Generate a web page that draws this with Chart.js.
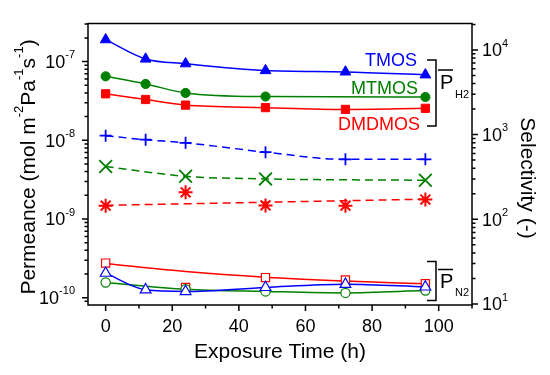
<!DOCTYPE html>
<html>
<head>
<meta charset="utf-8">
<script src="https://cdn.jsdelivr.net/npm/chart.js@4.4.0/dist/chart.umd.min.js"></script>
<style>
  html, body { margin: 0; padding: 0; background: #fff; }
  #wrap { width: 550px; height: 375px; }
</style>
</head>
<body>
<div id="wrap"><canvas id="grafico"></canvas></div>
<script>
// datos
const horas = [0, 12, 24, 48, 72, 96];

// permeancia H2 (mol m-2 Pa-1 s-1)
const tmosH2 = [1.9e-7, 1.08e-7, 9.4e-8, 7.7e-8, 7.4e-8, 6.8e-8];
const mtmosH2 = [6.5e-8, 5.2e-8, 4.0e-8, 3.6e-8, null, 3.55e-8];
const dmdmosH2 = [3.9e-8, 3.3e-8, 2.8e-8, 2.6e-8, 2.47e-8, 2.55e-8];

// permeancia N2
const tmosN2 = [2.05e-10, 1.26e-10, 1.2e-10, 1.35e-10, 1.48e-10, 1.37e-10];
const mtmosN2 = [1.56e-10, null, 1.28e-10, 1.2e-10, 1.15e-10, 1.23e-10];
const dmdmosN2 = [2.75e-10, null, 1.35e-10, 1.8e-10, 1.68e-10, 1.5e-10];
const dmdmosN2Ajuste = [2.72e-10, null, 2.15e-10, 1.82e-10, 1.63e-10, 1.5e-10];

// selectividad H2/N2
const tmosSel = [970, 870, 800, 620, 510, 510];
const mtmosSel = [420, null, 322, 300, null, 289];
const dmdmosSel = [145, null, 208, 146, 145, 171];
const dmdmosSelAjuste = [146, null, null, null, null, 173];

const ticksIzq = [-10, -9, -8, -7];
const ticksDer = [1, 2, 3, 4];
const ticksX = [0, 20, 40, 60, 80, 100];

const AZUL = '#0000ff', VERDE = '#008000', ROJO = '#ff0000';
const FUENTE = '"Liberation Sans", Arial, sans-serif';

function puntos(valores) {
  return horas.map((h, i) => ({ x: h, y: valores[i] }));
}

function serie(valores, color, estilo, radio, eje, extra) {
  return Object.assign({
    data: puntos(valores),
    yAxisID: eje,
    borderColor: color,
    backgroundColor: color,
    pointStyle: estilo,
    pointRadius: radio,
    pointHoverRadius: radio,
    pointBorderWidth: 1,
    borderWidth: 1.5,
    spanGaps: true,
    cubicInterpolationMode: 'monotone'
  }, extra || {});
}

const abierto = { backgroundColor: '#fff', pointBorderWidth: 1.2 };
const discontinua = { borderDash: [8, 5], pointBorderWidth: 1.8 };

const datasets = [
  serie(tmosH2, AZUL, 'triangle', 6.2, 'y'),
  serie(mtmosH2, VERDE, 'circle', 4.6, 'y'),
  serie(dmdmosH2, ROJO, 'rect', 5.8, 'y'),

  serie(tmosN2, AZUL, 'triangle', 6.2, 'y', abierto),
  serie(mtmosN2, VERDE, 'circle', 4.6, 'y', abierto),
  serie(dmdmosN2, ROJO, 'rect', 5.8, 'y', Object.assign({ showLine: false }, abierto)),
  serie(dmdmosN2Ajuste, ROJO, 'rect', 0, 'y'),

  serie(tmosSel, AZUL, 'cross', 6, 'y2', discontinua),
  serie(mtmosSel, VERDE, 'crossRot', 9, 'y2', discontinua),
  serie(dmdmosSel, ROJO, 'star', 7, 'y2', Object.assign({ showLine: false }, discontinua, { pointBorderWidth: 2 })),
  serie(dmdmosSelAjuste, ROJO, 'star', 0, 'y2', discontinua)
];

// texto con superíndices / subíndices
function texto(ctx, partes, x, y, align, tam, color) {
  const chico = Math.round(tam * 0.62);
  let ancho = 0;
  partes.forEach(p => {
    ctx.font = (p[1] ? chico : tam) + 'px ' + FUENTE;
    ancho += ctx.measureText(p[0]).width;
  });
  let cx = align === 'right' ? x - ancho : align === 'center' ? x - ancho / 2 : x;
  ctx.fillStyle = color || '#000';
  ctx.textAlign = 'left';
  ctx.textBaseline = 'alphabetic';
  partes.forEach(p => {
    ctx.font = (p[1] ? chico : tam) + 'px ' + FUENTE;
    const dy = p[1] === 'sup' ? -tam * 0.55 : p[1] === 'sub' ? tam * 0.3 : 0;
    ctx.fillText(p[0], cx, y + dy);
    cx += ctx.measureText(p[0]).width;
  });
}

const ejes = {
  id: 'ejes',
  afterDraw(chart) {
    const ctx = chart.ctx;
    const { left, right, top, bottom } = chart.chartArea;
    const sx = chart.scales.x, sy = chart.scales.y, sy2 = chart.scales.y2;
    ctx.save();
    ctx.strokeStyle = '#000';
    ctx.lineWidth = 1.5;
    ctx.strokeRect(left, top, right - left, bottom - top);

    ctx.beginPath();
    for (let v = 0; v <= 110; v += 10) {
      const px = sx.getPixelForValue(v);
      if (px > right) continue;
      ctx.moveTo(px, bottom);
      ctx.lineTo(px, bottom + (v % 20 === 0 ? 6 : 3.5));
    }
    for (let e = -11; e <= -6; e++) {
      for (let m = 1; m <= 9; m++) {
        const v = m * Math.pow(10, e);
        if (v < sy.min || v > sy.max) continue;
        const py = sy.getPixelForValue(v);
        ctx.moveTo(left, py);
        ctx.lineTo(left - (m === 1 ? 6 : 3.5), py);
      }
    }
    for (let e = 0; e <= 4; e++) {
      for (let m = 1; m <= 9; m++) {
        const v = m * Math.pow(10, e);
        if (v < sy2.min || v > sy2.max) continue;
        const py = sy2.getPixelForValue(v);
        ctx.moveTo(right, py);
        ctx.lineTo(right + (m === 1 ? 6 : 3.5), py);
      }
    }
    ctx.stroke();

    // etiquetas de ejes
    ticksX.forEach(v => texto(ctx, [[String(v)]], sx.getPixelForValue(v), 332, 'center', 18));
    ticksIzq.forEach(e => {
      const py = sy.getPixelForValue(Math.pow(10, e));
      texto(ctx, [['10'], [String(e), 'sup']], 75, py + 6.5, 'right', 18);
    });
    ticksDer.forEach(e => {
      const py = sy2.getPixelForValue(Math.pow(10, e));
      texto(ctx, [['10'], [String(e), 'sup']], 482, py + 6.5, 'left', 18);
    });

    // títulos
    texto(ctx, [['Exposure Time (h)']], (left + right) / 2, 358, 'center', 21);
    ctx.save();
    ctx.translate(35, 167);
    ctx.rotate(-Math.PI / 2);
    texto(ctx, [['Permeance (mol m'], ['-2', 'sup'], ['Pa'], ['-1', 'sup'], ['s'], ['-1', 'sup'], [')']], 0, 0, 'center', 21);
    ctx.restore();
    ctx.save();
    ctx.translate(521, 178);
    ctx.rotate(Math.PI / 2);
    texto(ctx, [['Selectivity (-)']], 0, 0, 'center', 21);
    ctx.restore();

    // nombres de las series
    texto(ctx, [['TMOS']], 417, 66, 'right', 18, AZUL);
    texto(ctx, [['MTMOS']], 418, 94, 'right', 18, VERDE);
    texto(ctx, [['DMDMOS']], 420, 130, 'right', 18, ROJO);

    // llaves P H2 y P N2
    ctx.lineWidth = 1.5;
    ctx.strokeStyle = '#000';
    ctx.beginPath();
    ctx.moveTo(427, 60); ctx.lineTo(436, 60); ctx.lineTo(436, 126); ctx.lineTo(427, 126);
    ctx.moveTo(438, 70); ctx.lineTo(453, 70);
    ctx.moveTo(427, 261.5); ctx.lineTo(436, 261.5); ctx.lineTo(436, 300.5); ctx.lineTo(427, 300.5);
    ctx.moveTo(438, 269.5); ctx.lineTo(453, 269.5);
    ctx.stroke();
    texto(ctx, [['P']], 440, 89, 'left', 20);
    texto(ctx, [['H2']], 455, 98, 'left', 11);
    texto(ctx, [['P']], 440, 288, 'left', 20);
    texto(ctx, [['N2']], 455, 296, 'left', 11);
    ctx.restore();
  }
};

const config = {
  type: 'line',
  data: { datasets },
  options: {
    responsive: true,
    maintainAspectRatio: false,
    animation: false,
    layout: { padding: { left: 88, right: 78, top: 23.5, bottom: 70 } },
    plugins: { legend: { display: false }, tooltip: { enabled: false } },
    scales: {
      x: { type: 'linear', min: -5.3, max: 110, display: false },
      y: { type: 'logarithmic', min: 8.07e-11, max: 3.05e-7, display: false },
      y2: { type: 'logarithmic', position: 'right', min: 9.73, max: 2.05e4, display: false }
    }
  },
  plugins: [ejes]
};

new Chart(document.getElementById('grafico').getContext('2d'), config);
</script>
</body>
</html>
